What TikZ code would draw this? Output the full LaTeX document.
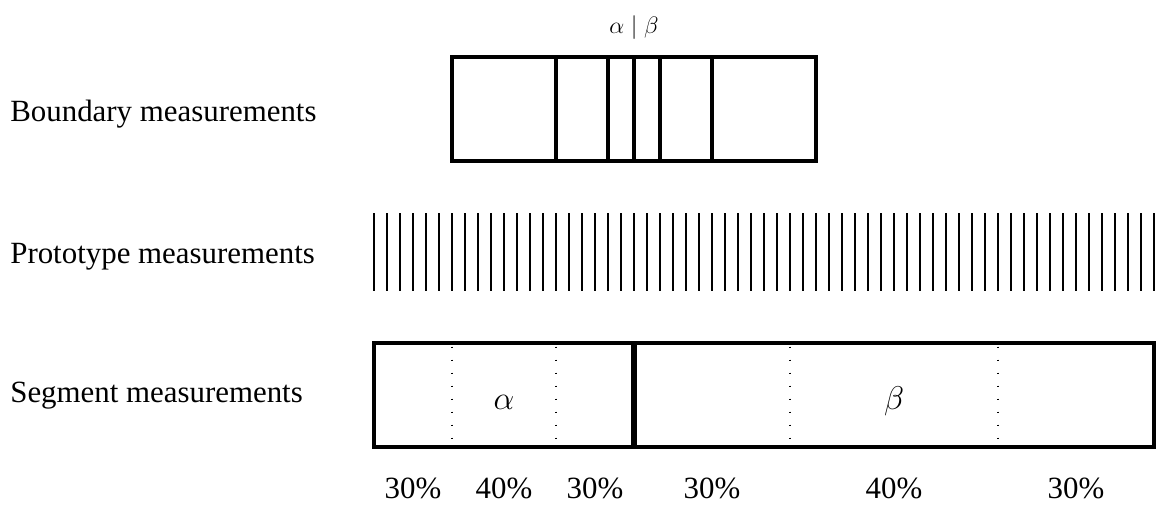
\RequirePackage{fix-cm}
\documentclass[tikz,border=0pt]{standalone}
\usepackage{fontspec}
\setmainfont{Liberation Serif}
\tikzset{
  rowlabel/.style={anchor=base west, inner sep=0pt, font=\fontsize{16.9}{20}\selectfont},
  pct/.style={anchor=base, inner sep=0pt, font=\fontsize{16.9}{20}\selectfont},
  seglabel/.style={anchor=base, inner sep=0pt, font=\fontsize{18}{21}\selectfont},
  toplabel/.style={anchor=base, inner sep=0pt, font=\fontsize{13}{15}\selectfont},
  thickbox/.style={line width=2.5pt},
  splitline/.style={line width=3pt},
  protoline/.style={line width=0.6pt},
  dotline/.style={line width=0.8pt, dash pattern=on 0.8pt off 6.31pt},
}
\begin{document}
\begin{tikzpicture}
\useasboundingbox (-7.192,-1.115) rectangle (15.096,8.596);
% row labels
\node[rowlabel] (lb) at (-7,6.26) {Boundary measurements};
\node[rowlabel] (lp) at (-7,3.53) {Prototype measurements};
\node[rowlabel] (ls) at (-7,0.85) {Segment measurements};
% boundary measurements
\draw[thickbox] (1.5,5.5) rectangle (8.5,7.5);
\foreach \x in {3.5,4.5,5,5.5,6.5}
  \draw[thickbox] (\x,5.5) -- (\x,7.5);
\node[toplabel] (ab) at (5,7.96) {$\alpha\mid\beta$};
% prototype measurements
\foreach \i in {0,...,60}
  \draw[protoline] (\i*0.25,3) -- (\i*0.25,4.5);
% segment measurements
\foreach \x in {1.5,3.5,8,12}
  \draw[dotline] (\x,1.93) -- (\x,0);
\draw[thickbox] (0,0) rectangle (15,2);
\draw[splitline] (5,0) -- (5,2);
\node[seglabel] (al) at (2.5,0.72) {$\alpha$};
\node[seglabel] (be) at (10,0.72) {$\beta$};
% percentages
\node[pct] (p1) at (0.75,-1) {30\%};
\node[pct] (p2) at (2.5,-1) {40\%};
\node[pct] (p3) at (4.25,-1) {30\%};
\node[pct] (p4) at (6.5,-1) {30\%};
\node[pct] (p5) at (10,-1) {40\%};
\node[pct] (p6) at (13.5,-1) {30\%};
\end{tikzpicture}
\end{document}
